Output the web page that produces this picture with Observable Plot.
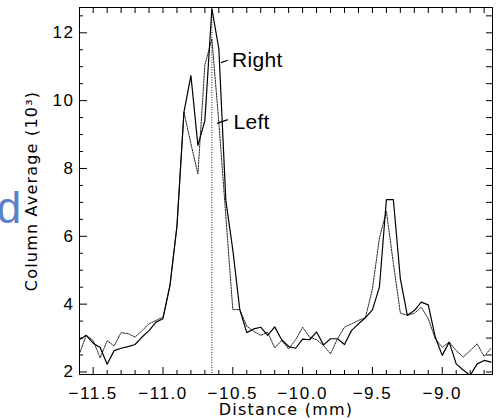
<!DOCTYPE html>
<html>
<head>
<meta charset="utf-8">
<script src="https://cdn.jsdelivr.net/npm/d3@7"></script>
<script src="https://cdn.jsdelivr.net/npm/@observablehq/plot@0.6"></script>
<style>
  html, body { margin: 0; padding: 0; background: #fff; }
  #chart svg text { letter-spacing: 1.5px; }
</style>
</head>
<body>
<div id="chart"></div>
<script>
// Sample positions along the scan (mm)
const distance = [
  -11.60, -11.55, -11.50, -11.45, -11.40, -11.35, -11.30, -11.25, -11.20, -11.15,
  -11.10, -11.05, -11.00, -10.95, -10.90, -10.85, -10.80, -10.75, -10.70, -10.65,
  -10.60, -10.55, -10.50, -10.45, -10.40, -10.35, -10.30, -10.25, -10.20, -10.15,
  -10.10, -10.05, -10.00, -9.95, -9.90, -9.85, -9.80, -9.75, -9.70, -9.65,
  -9.60, -9.55, -9.50, -9.45, -9.40, -9.35, -9.30, -9.25, -9.20, -9.15,
  -9.10, -9.05, -9.00, -8.95, -8.90, -8.85, -8.80, -8.75, -8.70, -8.65
];

// Column average, right side (10^3)
const right = [
  2.95, 3.08, 2.85, 2.72, 2.23, 2.63, 2.70, 2.75, 2.81, 3.03,
  3.22, 3.47, 3.57, 4.55, 6.30, 9.66, 10.74, 8.68, 9.41, 12.71,
  11.53, 7.06, 5.60, 3.84, 3.16, 3.27, 3.32, 3.08, 3.33, 2.95,
  2.75, 2.70, 2.97, 2.95, 3.18, 2.80, 2.98, 2.98, 2.81, 3.22,
  3.42, 3.60, 3.83, 4.50, 7.08, 7.08, 4.75, 3.67, 3.81, 4.06,
  3.98, 3.03, 2.49, 2.88, 2.24, 2.06, 1.90, 2.24, 2.34, 2.29
];

// Column average, left side (10^3)
const left = [
  2.52, 3.08, 2.93, 2.42, 2.92, 2.77, 3.16, 3.13, 3.03, 3.22,
  3.42, 3.52, 3.62, 4.55, 6.30, 9.66, 8.73, 7.84, 11.05, 11.82,
  9.36, 6.60, 3.84, 3.84, 3.35, 3.20, 3.08, 3.17, 2.71, 2.93,
  2.68, 2.95, 3.32, 3.03, 2.95, 2.78, 2.54, 2.98, 3.32, 3.42,
  3.52, 3.60, 4.45, 5.95, 6.74, 5.20, 3.74, 3.67, 3.73, 3.91,
  3.57, 2.98, 2.73, 2.88, 2.63, 2.44, 2.63, 2.83, 2.46, 2.71
];

// Labelled tick values
const xTicks = [-11.5, -11.0, -10.5, -10.0, -9.5, -9.0];
const yTicks = [2, 4, 6, 8, 10, 12];

// Position of the main peak marker
const peakMarker = [-10.65];

// Series labels with their leader lines
const seriesNames = ["Right", "Left"];
const labelX = [-10.505, -10.495];
const labelY = [11.18, 9.36];
const leaderFrom = [[-10.585, 11.12], [-10.612, 9.33]];
const leaderTo = [[-10.536, 11.19], [-10.536, 9.44]];

const xTitle = "Distance (mm)";
const yTitle = "Column Average (10³)";
const panelTag = "d";

const rows = distance.map((x, i) => ({x, right: right[i], left: left[i]}));
const labels = seriesNames.map((name, i) => ({name, x: labelX[i], y: labelY[i]}));
const leaders = seriesNames.map((name, i) => ({
  x1: leaderFrom[i][0], y1: leaderFrom[i][1], x2: leaderTo[i][0], y2: leaderTo[i][1]
}));

const xDomain = [-11.598, -8.640];
const yDomain = [1.926, 12.746];

const W = 497, H = 420;
const mTop = 7, mBottom = 46, mLeft = 79, mRight = 5;
const innerH = H - mTop - mBottom;
const innerW = W - mLeft - mRight;

const near = (a, list) => list.some(b => Math.abs(a - b) < 1e-6);
const xAll = d3.ticks(xDomain[0], xDomain[1], 30);
const xMinor = xAll.filter(v => !near(v, xTicks));
const yAll = d3.ticks(2, 12.5, 21);
const yMinor = yAll.filter(v => !near(v, yTicks));

const titleFont = "'DejaVu Sans', Verdana, sans-serif";
const labelFont = "'Liberation Sans', Arial, sans-serif";

const chart = Plot.plot({
  width: W,
  height: H,
  marginTop: mTop,
  marginBottom: mBottom,
  marginLeft: mLeft,
  marginRight: mRight,
  style: {
    background: "#fff",
    color: "#000",
    fontFamily: labelFont,
    fontSize: "17px",
    overflow: "visible"
  },
  x: {
    domain: xDomain,
    ticks: xTicks,
    tickFormat: d3.format(".1f"),
    tickSize: 0,
    tickPadding: 12,
    label: null
  },
  y: {
    domain: yDomain,
    ticks: yTicks,
    tickFormat: d3.format("d"),
    tickSize: 0,
    tickPadding: 5,
    label: null
  },
  marks: [
    // inward ticks: bottom
    Plot.tickX(xTicks, {x: d => d, insetTop: innerH - 7, stroke: "#000"}),
    Plot.tickX(xMinor, {x: d => d, insetTop: innerH - 4, stroke: "#000"}),
    // top
    Plot.tickX(xAll, {x: d => d, insetBottom: innerH - 6, stroke: "#000"}),
    // left
    Plot.tickY(yTicks, {y: d => d, insetRight: innerW - 8, stroke: "#000"}),
    Plot.tickY(yMinor, {y: d => d, insetRight: innerW - 4, stroke: "#000"}),
    // right
    Plot.tickY(yAll, {y: d => d, insetLeft: innerW - 6, stroke: "#000"}),

    Plot.ruleX(peakMarker, {x: d => d, stroke: "#222", strokeWidth: 1, strokeDasharray: "1,1.5"}),

    Plot.line(rows, {x: "x", y: "left", stroke: "#222", strokeWidth: 1, strokeDasharray: "1.5,1.2", clip: true}),
    Plot.line(rows, {x: "x", y: "right", stroke: "#000", strokeWidth: 1.2, clip: true}),

    Plot.link(leaders, {x1: "x1", y1: "y1", x2: "x2", y2: "y2", stroke: "#000", strokeWidth: 1.2}),
    Plot.text(labels, {
      x: "x", y: "y", text: "name", textAnchor: "start",
      fontSize: 21, fontFamily: labelFont, fill: "#000"
    }),

    Plot.frame({stroke: "#000", strokeWidth: 1}),

    Plot.text([xTitle], {
      frameAnchor: "bottom", textAnchor: "middle", dy: 40, text: d => d,
      fontSize: 16, fontFamily: titleFont, fill: "#000"
    }),
    Plot.text([yTitle], {
      frameAnchor: "left", textAnchor: "middle", dx: -48, dy: 0, rotate: -90, text: d => d,
      fontSize: 16, fontFamily: titleFont, fill: "#000"
    }),
    Plot.text([panelTag], {
      frameAnchor: "left", textAnchor: "end", dx: -58, dy: 18, text: d => d,
      fontSize: 44, fontFamily: labelFont, fill: "#5b82c8"
    })
  ]
});

// per-text letter spacing
d3.select(chart).selectAll("text").each(function() {
  const t = this.textContent;
  if (t === xTitle || t === yTitle) this.style.letterSpacing = "1.2px";
  else if (seriesNames.includes(t) || t === panelTag) this.style.letterSpacing = "0.3px";
});

document.getElementById("chart").appendChild(chart);
</script>
</body>
</html>
